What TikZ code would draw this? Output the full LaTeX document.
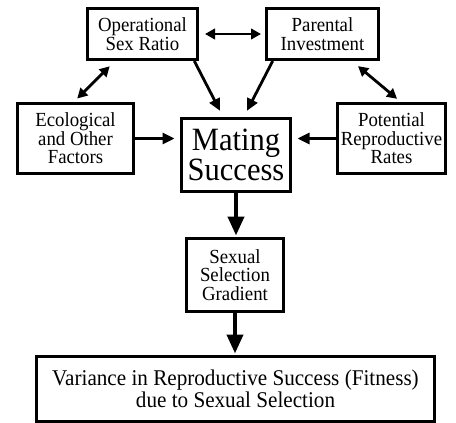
\documentclass[tikz,border=0pt]{standalone}
\usepackage{fontspec}
\setmainfont{Liberation Serif}[FakeStretch=0.94]
\usetikzlibrary{arrows.meta, positioning, calc}

\begin{document}
\begin{tikzpicture}[
    x=1pt, y=-1pt,
    factor/.style={draw, line width=3pt, align=center, inner sep=0pt, font=\fontsize{20}{18.5}\selectfont},
    link/.style={line width=2.8pt, -{Triangle[length=12pt, width=11pt]}},
    both/.style={line width=2.8pt, {Triangle[length=10pt, width=10.5pt]}-{Triangle[length=10pt, width=10.5pt]}},
    flow/.style={line width=4pt, -{Triangle[length=19pt, width=16pt]}, shorten >=1.5pt}
]
\useasboundingbox (0,0) rectangle (456,423);

\node[factor, minimum width=110pt, minimum height=51pt] (osr) at (142.5,34) {Operational\\Sex Ratio};
\node[factor, minimum width=112pt, minimum height=51pt] (pi) at (322.5,34) {Parental\\Investment};
\node[factor, minimum width=116pt, minimum height=70pt] (eco) at (75.5,138.5) {Ecological\\and Other\\Factors};
\node[factor, minimum width=109pt, minimum height=73pt, font=\fontsize{32.5}{30}\selectfont] (ms) at (236,155) {Mating\\Success};
\node[factor, minimum width=108pt, minimum height=70pt] (prr) at (391.5,138.5) {Potential\\Reproductive\\Rates};
\node[factor, minimum width=97pt, minimum height=73pt] (ssg) at (235,275) {Sexual\\Selection\\Gradient};
\node[factor, minimum width=398pt, minimum height=65pt, font=\fontsize{22.5}{19}\selectfont] (var) at (235.5,389) {Variance in Reproductive Success (Fitness)\\due to Sexual Selection};

\draw[both, shorten <=6pt, shorten >=4pt] (osr.east) -- (osr.east -| pi.west);
\draw[both, shorten <=7.5pt, shorten >=5pt] ([xshift=-27.5pt]osr.south) -- ([xshift=-1.8pt]eco.north);
\draw[both, shorten <=8pt, shorten >=5pt] ([xshift=29.4pt]pi.south) -- ([xshift=9.4pt]prr.north);
\draw[link, shorten >=7pt] ([xshift=51.8pt]osr.south) -- ([xshift=-12.8pt]ms.north);
\draw[link, shorten >=7pt] ([xshift=-49.8pt]pi.south) -- ([xshift=7.8pt]ms.north);
\draw[link, shorten >=5.5pt] (eco.east) -- (eco.east -| ms.west);
\draw[link, shorten >=5.5pt] (prr.west) -- (prr.west -| ms.east);
\draw[flow] (ms.south) -- (ms.south |- ssg.north);
\draw[flow] (ssg.south) -- (ssg.south |- var.north);
\end{tikzpicture}
\end{document}
